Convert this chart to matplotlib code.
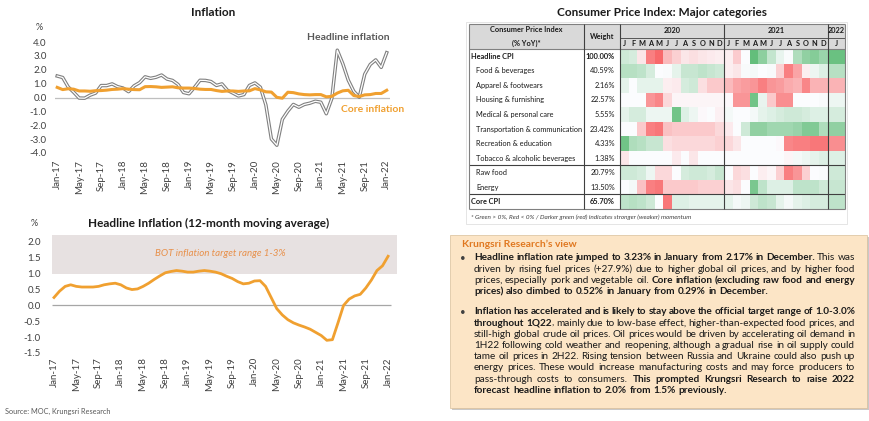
import matplotlib
matplotlib.use('Agg')
import matplotlib.pyplot as plt
import numpy as np
from matplotlib.colors import LinearSegmentedColormap
from matplotlib.patches import Rectangle

plt.rcParams['font.family'] = ['Lato', 'DejaVu Sans']

W, H = 870, 421

# ---- data: Thai CPI, % YoY, Jan-17 .. Jan-22 ----
headline = [1.55, 1.44, 0.76, 0.38, -0.04, -0.05, 0.17, 0.32, 0.86, 0.86, 0.98, 0.78,
            0.68, 0.42, 0.84, 1.07, 1.49, 1.38, 1.46, 1.62, 1.33, 1.23, 0.94, 0.36,
            0.27, 0.73, 1.24, 1.23, 1.15, 0.87, 0.98, 0.52, 0.32, 0.11, 0.21, 0.87,
            1.05, 0.74, -0.54, -2.99, -3.44, -1.57, -0.98, -0.50, -0.70, -0.50, -0.41, -0.27,
            -0.34, -1.17, -0.08, 3.41, 2.44, 1.25, 0.45, 0.02, 1.68, 2.38, 2.71, 2.17,
            3.23]
core = [0.73, 0.57, 0.63, 0.60, 0.47, 0.47, 0.45, 0.49, 0.50, 0.53, 0.58, 0.60,
        0.64, 0.60, 0.57, 0.56, 0.78, 0.79, 0.77, 0.73, 0.75, 0.77, 0.70, 0.68,
        0.68, 0.65, 0.60, 0.58, 0.58, 0.50, 0.44, 0.47, 0.47, 0.44, 0.47, 0.48,
        0.64, 0.55, 0.41, 0.39, 0.01, -0.05, 0.38, 0.35, 0.26, 0.21, 0.19, 0.21,
        0.21, 0.05, 0.08, 0.32, 0.48, 0.52, 0.14, 0.07, 0.19, 0.21, 0.29, 0.29,
        0.52]
headline_ma = [0.25, 0.45, 0.60, 0.65, 0.60, 0.58, 0.58, 0.58, 0.60, 0.65, 0.68, 0.70,
               0.65, 0.55, 0.50, 0.52, 0.60, 0.70, 0.82, 0.93, 1.03, 1.07, 1.10, 1.08,
               1.05, 1.05, 1.08, 1.10, 1.08, 1.05, 1.00, 0.92, 0.85, 0.75, 0.68, 0.70,
               0.77, 0.78, 0.60, 0.25, -0.10, -0.30, -0.45, -0.55, -0.62, -0.68, -0.75, -0.85,
               -0.95, -1.10, -1.08, -0.55, 0.00, 0.20, 0.30, 0.35, 0.55, 0.80, 1.10, 1.25,
               1.55]
tick_labels = ['Jan-17', 'May-17', 'Sep-17', 'Jan-18', 'May-18', 'Sep-18', 'Jan-19', 'May-19',
               'Sep-19', 'Jan-20', 'May-20', 'Sep-20', 'Jan-21', 'May-21', 'Sep-21', 'Jan-22']

categories = ['Headline CPI', 'Food & beverages', 'Apparel & footwears', 'Housing & furnishing',
              'Medical & personal care', 'Transportation & communication', 'Recreation & education',
              'Tobacco & alcoholic beverages', 'Raw food', 'Energy', 'Core CPI']
weights = ['100.00%', '40.59%', '2.16%', '22.57%', '5.55%', '23.42%', '4.33%', '1.38%',
           '20.79%', '13.50%', '65.70%']
years = ['2020', '2021', '2022']
month_letters = list('JFMAMJJASOND') * 2 + ['J']

m_headline = [0.3, 0.25, -0.15, -0.85, -1.0, -0.45, -0.3, -0.15, -0.2, -0.15, -0.12, -0.1,
              -0.1, -0.33, 0.0, 1.0, 0.72, 0.37, 0.13, 0.02, 0.5, 0.7, 0.78, 0.64, 0.95]
m_food = [0.45, 0.45, 0.4, 0.25, 0.0, 0.02, 0.15, 0.35, 0.35, 0.4, 0.35, 0.3,
          -0.1, -0.15, 0.03, 0.05, 0.0, 0.03, -0.3, -0.85, -0.6, -0.1, 0.1, 0.2, 0.45]
m_apparel = [0.15, 0.0, 0.15, 0.15, 0.15, -0.1, -0.12, 0.25, 0.3, -0.2, -0.35, -0.35,
             -0.45, -0.6, -0.65, -0.7, -0.85, -0.7, -0.65, -0.55, -0.5, -0.8, -0.5, -0.5, -0.5]
m_housing = [0.0, 0.0, 0.0, -0.7, -0.8, -0.25, -0.05, -0.05, -0.05, -0.05, -0.05, -0.05,
             -0.03, -0.7, -0.7, 0.9, 0.12, -0.35, -0.75, -0.75, 0.0, 0.0, 0.0, 0.03, 0.1]
m_medical = [0.15, 0.25, 0.25, 0.1, 0.1, 0.1, 0.9, 0.2, 0.1, -0.03, 0.0, -0.08,
             0.05, 0.0, 0.0, 0.05, 0.15, 0.2, 0.25, 0.3, 0.3, 0.25, 0.2, 0.2, 0.25]
m_transport = [0.0, 0.0, -0.35, -0.85, -0.9, -0.4, -0.35, -0.35, -0.35, -0.35, -0.35, -0.25,
               -0.12, 0.0, 0.3, 0.7, 0.7, 0.6, 0.6, 0.6, 0.65, 0.8, 0.8, 0.5, 0.7]
m_recreation = [0.9, 0.5, 0.45, 0.35, 0.35, -0.2, -0.25, -0.25, -0.25, -0.25, -0.25, -0.3,
                -0.25, -0.15, 0.0, 0.0, 0.0, 0.0, -0.03, -0.8, -0.85, -0.85, -0.9, -0.9, -0.75]
m_tobacco = [-0.15, 0.0, 0.0, 0.0, 0.0, 0.0, -0.12, 0.0, -0.15, 0.0, 0.0, 0.0,
             0.0, 0.0, 0.0, 0.0, 0.0, 0.0, 0.0, -0.05, 0.05, 0.1, 0.15, 0.2, 0.2]
m_raw_food = [0.3, 0.3, 0.25, 0.1, -0.25, -0.25, 0.0, 0.25, 0.3, 0.3, 0.25, 0.35,
              0.0, -0.25, -0.2, 0.0, -0.1, -0.05, -0.3, -0.85, -0.7, -0.3, 0.0, 0.02, 0.3]
m_energy = [0.0, 0.05, -0.4, -0.85, -0.9, -0.35, -0.35, -0.35, -0.35, -0.3, -0.3, -0.3,
            -0.15, -0.2, 0.0, 0.85, 0.4, 0.2, 0.2, 0.2, 0.4, 0.4, 0.4, 0.3, 0.35]
m_core = [0.4, 0.45, 0.4, 0.3, 0.0, -0.9, 0.2, 0.2, 0.15, 0.15, 0.15, 0.15,
          0.15, 0.05, 0.1, 0.3, 0.4, 0.35, 0.15, 0.05, 0.15, 0.2, 0.25, 0.25, 0.4]

# ---- commentary text (segments: text, bold) ----
para1 = [
    ([('Headline inflation rate jumped to 3.23% in January from 2.17% in December.', True),
      ('This was', False)], True),
    ([('driven by rising fuel prices (+27.9%) due to higher global oil prices, and by higher food', False)], True),
    ([('prices, especially pork and vegetable oil.', False),
      ('Core inflation (excluding raw food and energy', True)], True),
    ([('prices) also climbed to 0.52% in January from 0.29% in December.', True)], False),
]
para2 = [
    ([('Inflation has accelerated and is likely to stay above the official target range of 1.0-3.0%', True)], True),
    ([('throughout 1Q22', True), (', mainly due to low-base effect, higher-than-expected food prices, and', False)], True),
    ([('still-high global crude oil prices. Oil prices would be driven by accelerating oil demand in', False)], True),
    ([('1H22 following cold weather and reopening, although a gradual rise in oil supply could', False)], True),
    ([('tame oil prices in 2H22. Rising tension between Russia and Ukraine could also push up', False)], True),
    ([('energy prices. These would increase manufacturing costs and may force producers to', False)], True),
    ([('pass-through costs to consumers.', False),
      ('This prompted Krungsri Research to raise 2022', True)], True),
    ([('forecast headline inflation to 2.0% from 1.5% previously.', True)], False),
]

ORANGE = '#F0A030'
TXT = '#404040'


def px_rect(x0, y0, x1, y1):
    return [x0 / W, 1 - y1 / H, (x1 - x0) / W, (y1 - y0) / H]


def ftext(x, y, s, **kw):
    return fig.text(x / W, 1 - y / H, s, **kw)


def clean(ax):
    for s in ax.spines.values():
        s.set_visible(False)
    ax.tick_params(length=0, labelsize=7, colors=TXT)


def draw_lines(lines, x0, x1, y_start, dy, size):
    r = fig.canvas.get_renderer()
    a = ftext(0, 0, 'a a', fontsize=size)
    b = ftext(0, 0, 'aa', fontsize=size)
    space = a.get_window_extent(r).width - b.get_window_extent(r).width
    a.remove()
    b.remove()
    y = y_start
    for segs, justify in lines:
        # glue punctuation-leading segments to the previous word
        words = []
        for txt, bold in segs:
            for k, w in enumerate(txt.split()):
                if k == 0 and txt[0] in ',.;:' and words:
                    words.append((w, bold, True))
                else:
                    words.append((w, bold, False))
        objs = [ftext(0, y, w, fontsize=size, va='center', color='#1a1a1a',
                      fontweight='bold' if bold else 'normal') for w, bold, _ in words]
        widths = [o.get_window_extent(r).width for o in objs]
        n_gaps = sum(1 for w in words[1:] if not w[2])
        gap = space
        if justify and n_gaps > 0:
            gap = (x1 - x0 - sum(widths)) / n_gaps
        x = x0
        for o, w, (_, _, glued) in zip(objs, widths, words):
            if glued:
                x -= gap
            o.set_x(x / W)
            x += w + gap
        y += dy
    return y


fig = plt.figure(figsize=(W / 100, H / 100), dpi=100)
fig.patch.set_facecolor('white')
months = np.arange(len(headline))

# ---------------- Inflation ----------------
ax1 = fig.add_axes(px_rect(55, 42, 390, 153))
ax1.axhline(0, color='#bfbfbf', lw=0.9, zorder=0)
ax1.plot(months, headline, color='#808080', lw=2.5, solid_joinstyle='round')
ax1.plot(months, headline, color='white', lw=0.9, solid_joinstyle='round')
ax1.plot(months, core, color=ORANGE, lw=2.2, solid_joinstyle='round')
ax1.set_xlim(-0.4, 60.6)
ax1.set_ylim(-4, 4)
ax1.set_yticks(np.arange(-4, 5, 1))
ax1.set_yticklabels([f'{v:.1f}' for v in np.arange(-4, 5, 1)])
ax1.set_xticks(range(0, 61, 4))
ax1.set_xticklabels(tick_labels, rotation=90)
clean(ax1)
ax1.tick_params(axis='y', pad=6)
ax1.tick_params(axis='x', pad=5)
ftext(213, 12, 'Inflation', fontsize=8.5, fontweight='bold', ha='center', va='center', color='#1a1a1a')
ftext(39, 27, '%', fontsize=6.5, ha='center', va='center', color=TXT)
ftext(348, 38, 'Headline inflation', fontsize=7.5, fontweight='bold', ha='center', va='center', color='#595959')
ftext(373, 110, 'Core inflation', fontsize=7.5, fontweight='bold', ha='center', va='center', color=ORANGE)

# ---------------- 12-month moving average ----------------
ax2 = fig.add_axes(px_rect(52, 235, 397, 353))
ax2.axhspan(1.0, 3.0, color='#E7E1E1', lw=0, zorder=0)
ax2.hlines(0, -0.36, 60.6, color='#a6a6a6', lw=0.9, zorder=1)
ax2.plot(months, headline_ma, color=ORANGE, lw=2.0, solid_joinstyle='round', zorder=2)
ax2.set_xlim(-0.36, 61.6)
ax2.set_ylim(-1.5, 2.22)
yt = np.arange(-1.5, 2.01, 0.5)
ax2.set_yticks(yt)
ax2.set_yticklabels([f'{v:.1f}' for v in yt])
ax2.set_xticks(range(0, 61, 4))
ax2.set_xticklabels(tick_labels, rotation=90)
clean(ax2)
ax2.tick_params(axis='y', pad=8)
ax2.tick_params(axis='x', pad=3)
ax2.text(29.8, 1.65, 'BOT inflation target range 1-3%', fontsize=7, style='italic',
         color='#E8904A', ha='center', va='center')
ftext(209, 223, 'Headline Inflation (12-month moving average)', fontsize=8.5, fontweight='bold',
      ha='center', va='center', color='#1a1a1a')
ftext(34, 224, '%', fontsize=6.5, ha='center', va='center', color=TXT)
ftext(5, 411, 'Source: MOC, Krungsri Research', fontsize=5.3, va='center', color='#595959')

# ---------------- CPI heatmap table ----------------
ftext(662, 12, 'Consumer Price Index: Major categories', fontsize=8.5, fontweight='bold',
      ha='center', va='center', color='#1a1a1a')
fig.patches.append(Rectangle((466 / W, 1 - 224 / H), 381 / W, 202 / H, transform=fig.transFigure,
                             fc='white', ec='#e0e0e0', lw=0.6, zorder=-1))

XL, YT = -17.46, -1.72
tab = fig.add_axes(px_rect(469, 24, 845, 209))
tab.set_xlim(XL, 26)
tab.set_ylim(11, YT)
tab.axis('off')

cmap = LinearSegmentedColormap.from_list('excel', ['#F8696B', '#FCFCFF', '#63BE7B'])
grid = np.array([m_headline, m_food, m_apparel, m_housing, m_medical, m_transport,
                 m_recreation, m_tobacco, m_raw_food, m_energy, m_core])
xedges = np.r_[np.arange(25), 26]
yedges = np.arange(len(categories) + 1)
tab.pcolormesh(xedges, yedges, grid, cmap=cmap, vmin=-1, vmax=1, shading='flat')

tab.add_patch(Rectangle((XL, YT), 26 - XL, -YT, fc='#D9D9D9', ec='none'))
lc = '#404040'
tab.hlines([YT, 0, 11], XL, 26, color='#808080', lw=0.8, clip_on=False)
tab.hlines([8, 10], XL, 26, color=lc, lw=0.8, clip_on=False)
tab.hlines(-0.76, 0, 26, color=lc, lw=0.6, clip_on=False)
tab.vlines([XL, 26], YT, 11, color='#808080', lw=0.8, clip_on=False)
tab.vlines([-4.16, 0, 12, 24], YT, 11, color=lc, lw=0.8, clip_on=False)

fs = 5.3
tab.text(-10.87, -1.31, 'Consumer Price Index', fontsize=fs, fontweight='bold', ha='center', va='center', color='#1a1a1a')
tab.text(-10.87, -0.41, '(% YoY)*', fontsize=fs, fontweight='bold', ha='center', va='center', color='#1a1a1a')
tab.text(-2.08, -0.86, 'Weight', fontsize=fs, fontweight='bold', ha='center', va='center', color='#1a1a1a')
for yr, xc in zip(years, [6, 18, 25]):
    tab.text(xc, -1.24, yr, fontsize=fs, fontweight='bold', ha='center', va='center', color='#1a1a1a')
for i, m in enumerate(month_letters):
    xc = i + 0.5 if i < 24 else 25
    tab.text(xc, -0.38, m, fontsize=fs, fontweight='bold', ha='center', va='center', color='#1a1a1a')
for i, (cat, wt) in enumerate(zip(categories, weights)):
    top = cat in ('Headline CPI', 'Core CPI')
    tab.text(-17.23 if top else -16.65, i + 0.5, cat, fontsize=fs, va='center', color='#1a1a1a',
             fontweight='bold' if top else 'normal')
    tab.text(-0.58, i + 0.5, wt, fontsize=fs, va='center', ha='right', color='#1a1a1a',
             fontweight='bold' if top else 'normal')
ftext(471, 217, '* Green > 0%, Red < 0% / Darker green (red) indicates stronger (weaker) momentum',
      fontsize=4.6, style='italic', va='center', color=TXT)

# ---------------- Krungsri Research's view ----------------
fig.patches.append(Rectangle((452 / W, 1 - 410 / H), 417 / W, 173 / H, transform=fig.transFigure,
                             fc='#c8c8c8', ec='none', zorder=-1))
fig.patches.append(Rectangle((450 / W, 1 - 408 / H), 417 / W, 173 / H, transform=fig.transFigure,
                             fc='#FCE5C6', ec='#d9bf9a', lw=0.5, zorder=-1))
ftext(462, 244, 'Krungsri Research\u2019s view', fontsize=7.4, fontweight='bold', va='center', color='#E07820')
ftext(460, 259, '\u2022', fontsize=7, va='center', color='#404040')
ftext(460, 313, '\u2022', fontsize=7, va='center', color='#404040')
draw_lines(para1, 474, 855, 258, 11.2, 7.2)
draw_lines(para2, 474, 855, 312, 11.2, 7.2)

fig.savefig('out.png', dpi=100, facecolor='white')
